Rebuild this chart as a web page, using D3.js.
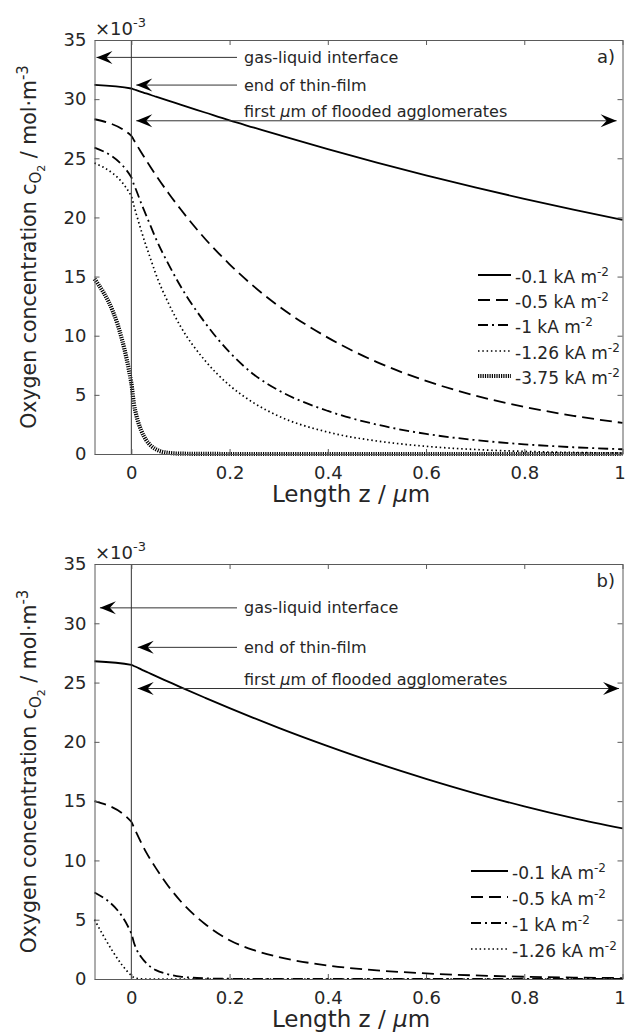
<!DOCTYPE html>
<html>
<head>
<meta charset="utf-8">
<script src="https://cdn.jsdelivr.net/npm/d3@7"></script>
<style>
  html, body { margin: 0; padding: 0; background: #fff; }
  svg { display: block; }
  text { font-family: "DejaVu Sans", sans-serif; fill: #262626; }
</style>
</head>
<body>
<svg id="fig" width="627" height="1033"></svg>
<script>
// Position along the electrode, z in µm (negative side = thin film)
const zGrid = [-0.075, 0, 0.005, 0.01, 0.02, 0.03, 0.04, 0.05, 0.075, 0.1, 0.15,
               0.2, 0.25, 0.3, 0.4, 0.5, 0.6, 0.7, 0.8, 0.9, 1.0];

// Panel a) oxygen concentration (x10^-3 mol m^-3)
const a_01  = [31.2, 30.9, 30.83, 30.76, 30.62, 30.48, 30.35, 30.21, 29.87, 29.54, 28.87,
               28.2, 27.59, 26.98, 25.78, 24.64, 23.56, 22.54, 21.57, 20.65, 19.8];
const a_05  = [28.3, 26.9, 26.55, 26.2, 25.51, 24.85, 24.2, 23.57, 22.09, 20.71, 18.2,
               16.04, 14.15, 12.5, 9.84, 7.77, 6.18, 4.94, 3.98, 3.23, 2.63];
const a_1   = [25.9, 23.4, 22.8, 22.3, 21.2, 20.2, 19.2, 18.2, 16.1, 14.2, 11.1,
               8.6, 6.7, 5.38, 3.64, 2.49, 1.7, 1.18, 0.82, 0.57, 0.4];
const a_126 = [24.6, 21.8, 21.03, 20.3, 18.9, 17.6, 16.4, 15.2, 12.8, 10.8, 7.9,
               5.8, 4.3, 3.2, 1.85, 1.1, 0.65, 0.38, 0.22, 0.13, 0.08];
const a_375 = [14.8, 6.0, 4.3, 3.3, 2.0, 1.2, 0.7, 0.4, 0.1, 0.03, 0.01,
               0, 0, 0, 0, 0, 0, 0, 0, 0, 0];

// Panel b) oxygen concentration (x10^-3 mol m^-3)
const b_01  = [26.8, 26.5, 26.4, 26.31, 26.11, 25.92, 25.73, 25.54, 25.08, 24.62, 23.72,
               22.84, 22.0, 21.18, 19.64, 18.2, 16.88, 15.66, 14.56, 13.57, 12.7];
const b_05  = [15.0, 13.26, 12.8, 12.36, 11.5, 10.7, 10.0, 9.35, 7.85, 6.58, 4.64,
               3.27, 2.43, 1.85, 1.14, 0.73, 0.47, 0.3, 0.19, 0.12, 0.08];
const b_1   = [7.3, 3.85, 3.1, 2.55, 1.85, 1.35, 1.0, 0.75, 0.4, 0.2, 0.06,
               0.02, 0.01, 0, 0, 0, 0, 0, 0, 0, 0];
const b_126 = [5.0, 0.3, 0.12, 0.05, 0.01, 0, 0, 0, 0, 0, 0,
               0, 0, 0, 0, 0, 0, 0, 0, 0, 0];

const seriesLabels = ["-0.1", "-0.5", "-1", "-1.26", "-3.75"];
const xTicks = [0, 0.2, 0.4, 0.6, 0.8, 1];
const yTicks = [0, 5, 10, 15, 20, 25, 30, 35];

// Line styles per current density
const styles = {
  "-0.1":  { width: 1.8, dash: null },
  "-0.5":  { width: 1.8, dash: "12,6" },
  "-1":    { width: 1.8, dash: "10,4,2,4" },
  "-1.26": { width: 1.7, dash: "1.5,2.8" },
  "-3.75": { width: 4.2, dash: "1.2,1.1" }
};

const svg = d3.select("#fig");
const X0 = 94.5, X1 = 622.5;

function arrowHead(g, tx, ty, dir) {
  // concave ("vback") arrow head, dir = -1 points left, +1 points right
  const L = 16, W = 6.5, notch = 10;
  const p = [[tx, ty], [tx - dir * L, ty - W], [tx - dir * notch, ty], [tx - dir * L, ty + W]];
  g.append("path").attr("d", "M" + p.map(q => q.join(",")).join("L") + "Z")
    .attr("fill", "#000");
}

function drawPanel(cfg) {
  const x = d3.scaleLinear().domain([-0.075, 1]).range([X0, X1]);
  const y = d3.scaleLinear().domain([0, 35]).range([cfg.bottom, cfg.top]);
  const g = svg.append("g");

  // curves
  const line = d3.line().x(d => x(d[0])).y(d => y(d[1])).curve(d3.curveMonotoneX);
  cfg.series.forEach((vals, i) => {
    const st = styles[seriesLabels[i]];
    g.append("path")
      .datum(zGrid.map((z, k) => [z, vals[k]]))
      .attr("d", line)
      .attr("fill", "none")
      .attr("stroke", "#000")
      .attr("stroke-width", st.width)
      .attr("stroke-dasharray", st.dash);
  });

  // thin-film boundary
  g.append("line").attr("x1", x(0)).attr("x2", x(0))
    .attr("y1", y(0)).attr("y2", y(35))
    .attr("stroke", "#333").attr("stroke-width", 1);

  // axes box with inward ticks on all four sides
  const axB = d3.axisBottom(x).tickValues(xTicks).tickSizeInner(-5).tickSizeOuter(0)
    .tickFormat(d3.format("~g")).tickPadding(12);
  const axT = d3.axisTop(x).tickValues(xTicks).tickSizeInner(-5).tickSizeOuter(0).tickFormat("");
  const axL = d3.axisLeft(y).tickValues(yTicks).tickSizeInner(-5).tickSizeOuter(0).tickPadding(8);
  const axR = d3.axisRight(y).tickValues(yTicks).tickSizeInner(-5).tickSizeOuter(0).tickFormat("");
  [[axB, `translate(0,${cfg.bottom})`], [axT, `translate(0,${cfg.top})`],
   [axL, `translate(${X0},0)`], [axR, `translate(${X1},0)`]].forEach(([ax, tr]) => {
    const a = g.append("g").attr("transform", tr).call(ax);
    a.select(".domain").attr("stroke", "#5a5a5a").attr("stroke-width", 1);
    a.selectAll(".tick line").attr("stroke", "#5a5a5a");
    a.selectAll(".tick text").style("font-size", "18px").attr("fill", "#262626")
      .style("font-family", "DejaVu Sans");
  });
  // keep the last x label inside the page
  g.selectAll(".tick text").filter(d => d === 1).attr("dx", -3);

  // exponent marker
  const ex = g.append("text").attr("x", 95).attr("y", cfg.top - 5).style("font-size", "18px");
  ex.append("tspan").text("\u00d710");
  ex.append("tspan").attr("dy", -8).style("font-size", "13px").text("-3");

  // panel tag
  g.append("text").attr("x", 615).attr("y", cfg.top + 23).attr("text-anchor", "end")
    .style("font-size", "18px").text(cfg.tag);

  // axis titles
  const xl = g.append("text").attr("x", 351).attr("y", cfg.bottom + 48)
    .attr("text-anchor", "middle").style("font-size", "23px");
  xl.append("tspan").text("Length z / ");
  xl.append("tspan").style("font-style", "italic").text("\u03bc");
  xl.append("tspan").text("m");

  const yl = g.append("text").style("font-size", "20.5px");
  yl.append("tspan").text("Oxygen concentration c");
  yl.append("tspan").attr("dy", 5).style("font-size", "15px").text("O");
  yl.append("tspan").attr("dy", 4).style("font-size", "11px").text("2");
  yl.append("tspan").attr("dy", -9).text(" / mol\u00b7m");
  yl.append("tspan").attr("dy", -8).style("font-size", "15px").text("-3");
  const bb = yl.node().getBBox();
  const cx = bb.x + bb.width / 2;
  yl.attr("transform",
    `translate(36,${(cfg.top + cfg.bottom) / 2}) rotate(-90) translate(${-cx},0)`);

  // annotations
  const ann = g.append("g");
  const tailX = 237, textX = 244;
  cfg.notes.forEach(n => {
    const ay = y(n.v);
    if (n.both) {
      ann.append("line").attr("x1", x(n.from)).attr("x2", x(n.to))
        .attr("y1", ay).attr("y2", ay).attr("stroke", "#333").attr("stroke-width", 1);
      arrowHead(ann, x(n.from), ay, -1);
      arrowHead(ann, x(n.to), ay, 1);
      const t = ann.append("text").attr("x", textX).attr("y", ay - 4).style("font-size", "16px");
      t.append("tspan").text("first ");
      t.append("tspan").style("font-style", "italic").text("\u03bc");
      t.append("tspan").text("m of flooded agglomerates");
    } else {
      ann.append("line").attr("x1", x(n.from)).attr("x2", tailX)
        .attr("y1", ay).attr("y2", ay).attr("stroke", "#333").attr("stroke-width", 1);
      arrowHead(ann, x(n.from), ay, -1);
      ann.append("text").attr("x", textX).attr("y", ay + 5.5)
        .style("font-size", "16px").text(n.label);
    }
  });

  // legend
  const lg = g.append("g");
  cfg.series.forEach((vals, i) => {
    const lab = seriesLabels[i];
    const st = styles[lab];
    const ry = cfg.legendY[i];
    lg.append("line").attr("x1", cfg.legendX[0]).attr("x2", cfg.legendX[1])
      .attr("y1", ry - 2).attr("y2", ry - 2)
      .attr("stroke", "#000").attr("stroke-width", st.width)
      .attr("stroke-dasharray", st.dash);
    const t = lg.append("text").attr("x", cfg.legendX[1] + 4).attr("y", ry + 6)
      .style("font-size", "17px");
    t.append("tspan").text(lab + " kA m");
    t.append("tspan").attr("dy", -7).style("font-size", "12px").text("-2");
  });
}

drawPanel({
  top: 40, bottom: 454, tag: "a)",
  series: [a_01, a_05, a_1, a_126, a_375],
  legendX: [478, 511], legendY: [277, 302, 327, 353, 378],
  notes: [
    { v: 33.53, from: -0.071, label: "gas-liquid interface" },
    { v: 31.19, from: 0.01, label: "end of thin-film" },
    { v: 28.17, from: 0.01, to: 0.988, both: true }
  ]
});

drawPanel({
  top: 564, bottom: 979, tag: "b)",
  series: [b_01, b_05, b_1, b_126],
  legendX: [471, 508], legendY: [873, 899, 925, 951],
  notes: [
    { v: 31.3, from: -0.064, label: "gas-liquid interface" },
    { v: 27.97, from: 0.013, label: "end of thin-film" },
    { v: 24.5, from: 0.013, to: 0.993, both: true }
  ]
});
</script>
</body>
</html>
